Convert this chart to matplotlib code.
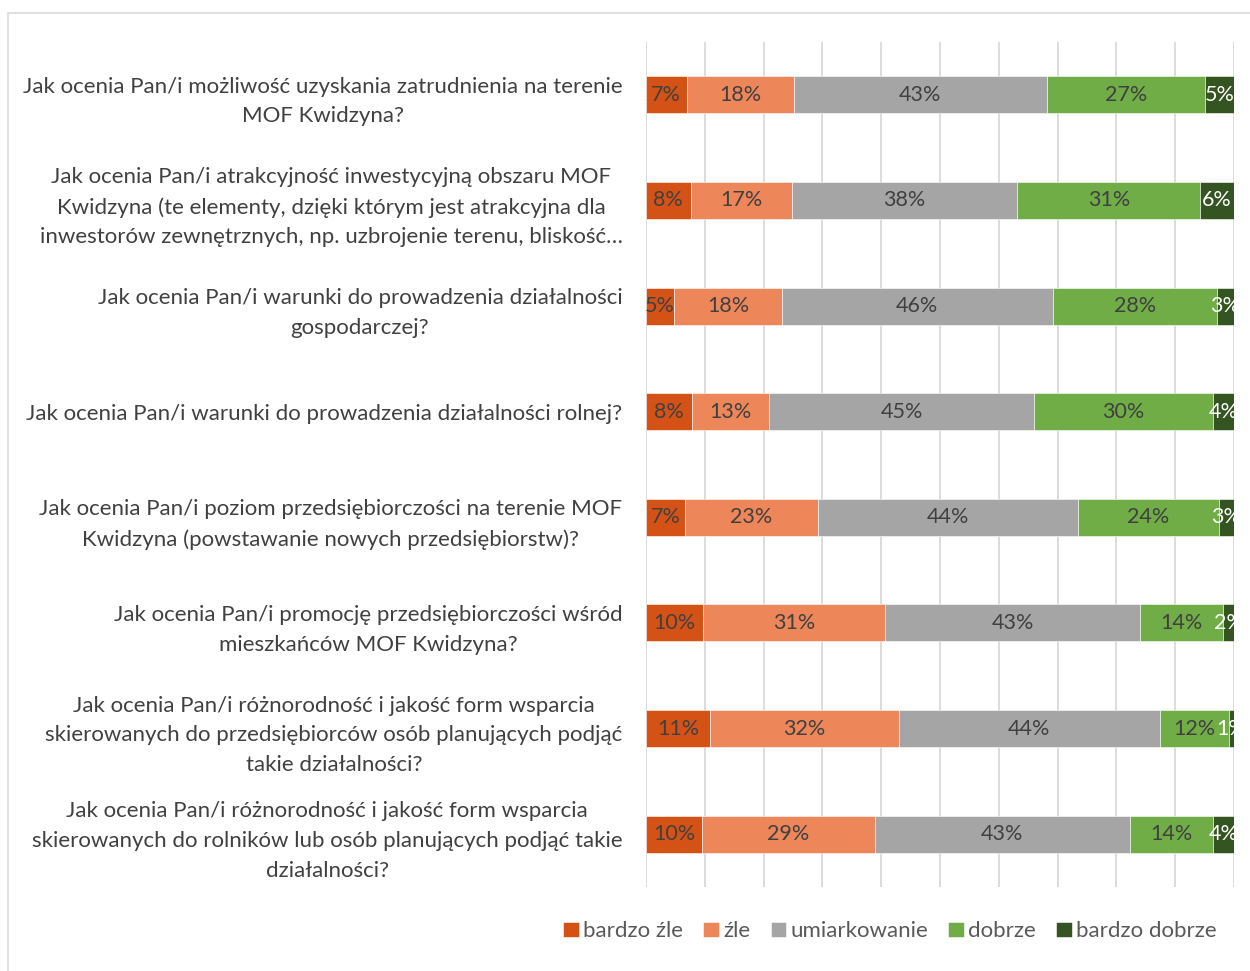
import matplotlib.pyplot as plt
from matplotlib.patches import Rectangle
import numpy as np

plt.rcParams['font.family'] = ['Lato', 'DejaVu Sans']

# Question labels (top to bottom)
questions = [
    "Jak ocenia Pan/i możliwość uzyskania zatrudnienia na terenie\nMOF Kwidzyna?",
    "Jak ocenia Pan/i atrakcyjność inwestycyjną obszaru MOF\nKwidzyna (te elementy, dzięki którym jest atrakcyjna dla\ninwestorów zewnętrznych, np. uzbrojenie terenu, bliskość…",
    "Jak ocenia Pan/i warunki do prowadzenia działalności\ngospodarczej?",
    "Jak ocenia Pan/i warunki do prowadzenia działalności rolnej?",
    "Jak ocenia Pan/i poziom przedsiębiorczości na terenie MOF\nKwidzyna (powstawanie nowych przedsiębiorstw)?",
    "Jak ocenia Pan/i promocję przedsiębiorczości wśród\nmieszkańców MOF Kwidzyna?",
    "Jak ocenia Pan/i różnorodność i jakość form wsparcia\nskierowanych do przedsiębiorców osób planujących podjąć\ntakie działalności?",
    "Jak ocenia Pan/i różnorodność i jakość form wsparcia\nskierowanych do rolników lub osób planujących podjąć takie\ndziałalności?",
]

series_names = ["bardzo źle", "źle", "umiarkowanie", "dobrze", "bardzo dobrze"]

# shares in %, per question
bardzo_zle    = [6.9, 7.6, 4.8, 7.8, 6.6, 9.7, 10.9, 9.6]
zle           = [18.2, 17.2, 18.3, 13.2, 22.7, 31.0, 32.1, 29.3]
umiarkowanie  = [43.1, 38.3, 46.1, 45.0, 44.1, 43.3, 44.4, 43.4]
dobrze        = [26.8, 31.2, 27.9, 30.4, 24.0, 14.2, 11.7, 14.1]
bardzo_dobrze = [5.0, 5.7, 2.9, 3.6, 2.6, 1.8, 0.9, 3.6]

colors = ["#D55216", "#ED8659", "#A5A5A5", "#70AD47", "#345421"]
label_colors = ["#404040", "#404040", "#404040", "#404040", "white"]

data = [bardzo_zle, zle, umiarkowanie, dobrze, bardzo_dobrze]

fig = plt.figure(figsize=(12.5, 9.71), dpi=100)
ax = fig.add_axes([0.5168, 0.0865, 0.4704, 0.8702])

y = np.arange(len(questions))
left = np.zeros(len(questions))
for name, vals, c, lc in zip(series_names, data, colors, label_colors):
    vals = np.array(vals)
    ax.barh(y, vals, left=left, height=0.35, color=c, label=name,
            edgecolor="white", linewidth=0.4, zorder=3)
    for yi, l, v in zip(y, left, vals):
        ax.text(l + v / 2, yi, f"{round(v):d}%", ha="center", va="center",
                fontsize=15.5, color=lc, zorder=4, clip_on=False)
    left += vals

ax.set_xlim(0, 100)
ax.set_ylim(7.5, -0.5)
ax.set_xticks(np.arange(0, 101, 10))
ax.xaxis.grid(True, color="#D9D9D9", linewidth=1.3, zorder=0)
ax.tick_params(axis="x", length=0, labelbottom=False)
ax.tick_params(axis="y", length=0, pad=17)
ax.set_yticks(y)
ax.set_yticklabels(questions, fontsize=16, color="#404040",
                   multialignment="center", linespacing=1.6)
for s in ax.spines.values():
    s.set_visible(False)

fig.legend(loc="center", bbox_to_anchor=(0.712, 0.041), ncol=5,
           frameon=False, fontsize=16, labelcolor="#595959",
           handlelength=0.7, handleheight=0.7, handletextpad=0.2,
           columnspacing=0.9)

fig.add_artist(Rectangle((8 / 1250, -0.05), 1.2, 0.05 + 1 - 13 / 971,
                         transform=fig.transFigure, fill=False,
                         edgecolor="#D9D9D9", linewidth=1.2))

fig.savefig("out.png", dpi=100, facecolor="white")
